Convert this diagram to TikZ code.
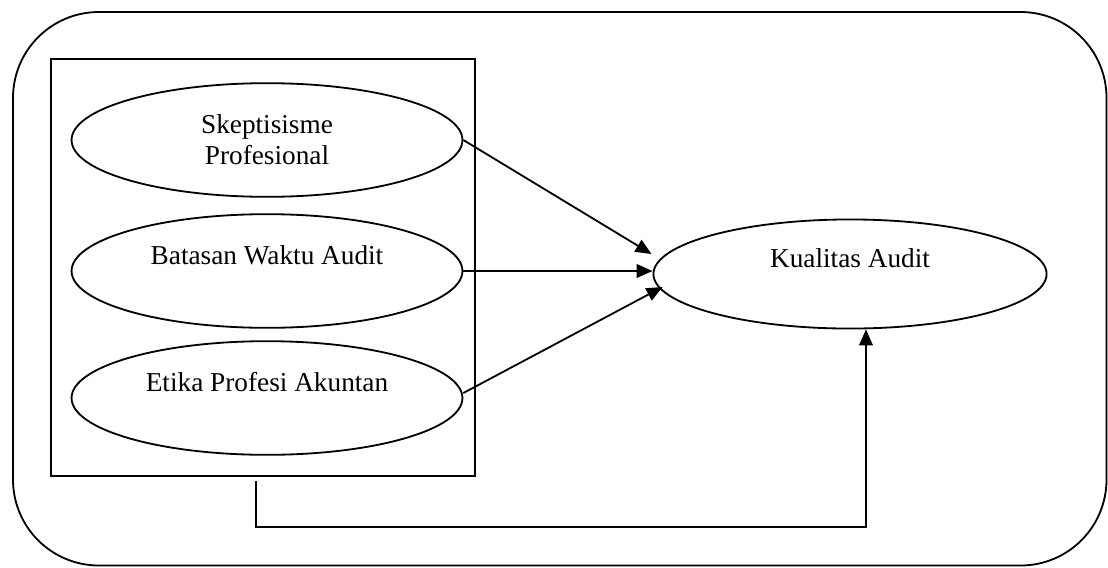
\documentclass[tikz,border=0pt]{standalone}
\usepackage{fontspec}
\setmainfont{Liberation Serif}
\usetikzlibrary{arrows.meta, shapes.geometric}

\begin{document}
\begin{tikzpicture}[x=0.44pt, y=-0.44pt, line width=0.8pt,
    var/.style={draw, ellipse, minimum width=172pt, minimum height=50pt, inner sep=0pt, font=\fontsize{12}{13.6}\selectfont},
    oneline/.style={text height=8.2pt, text depth=14.2pt},
    tri/.style={-{Triangle[length=7pt,width=6pt]}}]
    \useasboundingbox (0,0) rectangle (1108,567);
    % outer frame
    \draw[rounded corners=37.8pt] (13,12) rectangle (1106.5,565.5);
    \node[draw, minimum width=186.6pt, minimum height=183.5pt, inner sep=0pt] (frame) at (263,267.5){};

    % ellipse
    \node[var, align=center] (skep) at (267,140){Skeptisisme\\Profesional};
    \node[var, oneline] (batas) at (267,271){Batasan Waktu Audit};
    \node[var, oneline] (etika) at (267,398){Etika Profesi Akuntan};
    \node[var, oneline, minimum width=173pt, minimum height=48pt] (kual) at (850,274){Kualitas Audit};

    % arrow
    \draw[tri] (skep.east) -- ([shift={(-1,-20)}]kual.west);
    \draw[tri] (batas.east) -- (batas.east -| kual.west);
    \draw[tri] ([shift={(0,-5)}]etika.east) -- ([shift={(10,13)}]kual.west);
    \draw[tri] ([shift={(-7,4)}]frame.south) -- ++(0,46) -| ([shift={(16,0)}]kual.south);
\end{tikzpicture}
\end{document}
